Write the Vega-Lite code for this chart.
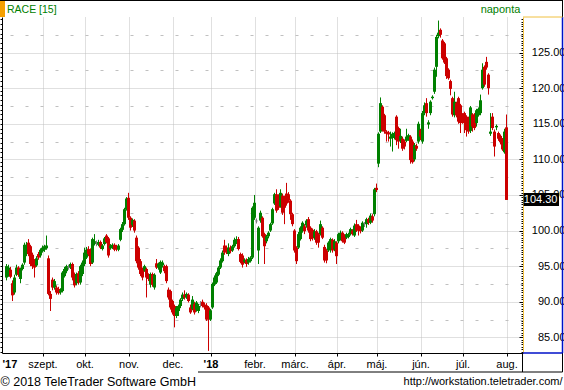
{
 "$schema": "https://vega.github.io/schema/vega-lite/v6.json",
 "width": 521, "height": 336,
 "autosize": {"type": "none"},
 "padding": {"left": 2, "top": 17, "right": 41, "bottom": 37},
 "background": "#ffffff",
 "config": {"view": {"stroke": null}, "font": "Liberation Sans"},
 "title": {"text": "RACE [15]", "anchor": "start", "frame": "group", "color": "#008000", "font": "Liberation Sans", "fontSize": 10.5, "fontWeight": "normal", "offset": 0, "dx": 5, "dy": 21, "baseline": "middle"},
 "datasets": {"candles": [
{"i":0,"o":93.4,"h":95.3,"l":93.0,"c":95.0},{"i":1,"o":93.7,"h":95.2,"l":93.5,"c":94.8},{"i":2,"o":94.5,"h":94.9,"l":93.3,"c":93.5},{"i":3,"o":92.6,"h":93.0,"l":90.1,"c":90.9},{"i":4,"o":91.3,"h":93.8,"l":91.0,"c":93.4},{"i":5,"o":93.8,"h":95.2,"l":93.6,"c":94.8},{"i":6,"o":94.8,"h":95.0,"l":93.5,"c":93.8},{"i":7,"o":93.2,"h":94.8,"l":92.6,"c":94.6},{"i":8,"o":94.6,"h":95.4,"l":94.4,"c":95.2},{"i":9,"o":95.5,"h":98.3,"l":95.2,"c":98.0},
{"i":10,"o":96.7,"h":98.4,"l":96.4,"c":98.0},{"i":11,"o":98.3,"h":98.8,"l":96.4,"c":96.7},{"i":12,"o":97.8,"h":98.0,"l":95.0,"c":95.3},{"i":13,"o":96.6,"h":96.9,"l":94.6,"c":95.0},{"i":14,"o":95.8,"h":96.0,"l":93.4,"c":94.8},{"i":15,"o":95.1,"h":96.4,"l":94.9,"c":96.1},{"i":16,"o":96.7,"h":97.0,"l":95.9,"c":96.2},{"i":17,"o":96.5,"h":97.5,"l":96.2,"c":97.3},{"i":18,"o":97.1,"h":97.9,"l":96.9,"c":97.6},{"i":19,"o":97.3,"h":98.0,"l":97.0,"c":97.8},
{"i":20,"o":97.5,"h":99.3,"l":97.3,"c":97.9},{"i":21,"o":96.1,"h":96.5,"l":90.9,"c":91.1},{"i":22,"o":91.1,"h":91.5,"l":88.7,"c":90.4},{"i":23,"o":93.1,"h":93.4,"l":91.6,"c":92.0},{"i":24,"o":92.0,"h":93.2,"l":91.7,"c":92.9},{"i":25,"o":92.0,"h":92.3,"l":91.0,"c":91.3},{"i":26,"o":91.8,"h":92.1,"l":91.0,"c":91.2},{"i":27,"o":91.3,"h":91.9,"l":91.0,"c":91.6},{"i":28,"o":91.5,"h":94.3,"l":91.3,"c":94.1},{"i":29,"o":93.6,"h":94.9,"l":93.4,"c":94.6},
{"i":30,"o":94.3,"h":95.2,"l":94.0,"c":95.0},{"i":31,"o":94.8,"h":95.2,"l":94.5,"c":94.9},{"i":32,"o":94.8,"h":95.5,"l":94.6,"c":95.3},{"i":33,"o":95.3,"h":95.5,"l":93.0,"c":93.4},{"i":34,"o":93.9,"h":94.1,"l":92.0,"c":92.3},{"i":35,"o":92.6,"h":94.1,"l":92.3,"c":93.9},{"i":36,"o":94.0,"h":94.3,"l":92.4,"c":92.7},{"i":37,"o":92.7,"h":95.2,"l":92.4,"c":95.0},{"i":38,"o":93.9,"h":95.8,"l":93.6,"c":95.5},{"i":39,"o":95.3,"h":97.6,"l":95.0,"c":96.9},
{"i":40,"o":96.2,"h":97.7,"l":96.0,"c":97.3},{"i":41,"o":97.4,"h":97.8,"l":96.4,"c":96.7},{"i":42,"o":97.2,"h":97.5,"l":95.0,"c":95.3},{"i":43,"o":95.5,"h":99.0,"l":95.3,"c":98.8},{"i":44,"o":98.1,"h":99.5,"l":97.9,"c":98.5},{"i":45,"o":98.2,"h":98.6,"l":97.8,"c":98.3},{"i":46,"o":98.0,"h":98.7,"l":97.8,"c":98.4},{"i":47,"o":98.4,"h":98.6,"l":97.4,"c":97.6},{"i":48,"o":97.4,"h":98.1,"l":97.2,"c":97.9},{"i":49,"o":98.1,"h":99.1,"l":97.9,"c":98.9},
{"i":50,"o":99.3,"h":99.5,"l":98.2,"c":98.4},{"i":51,"o":98.9,"h":99.1,"l":96.2,"c":96.5},{"i":52,"o":97.5,"h":98.1,"l":97.3,"c":97.9},{"i":53,"o":97.6,"h":98.2,"l":97.4,"c":98.0},{"i":54,"o":98.0,"h":98.2,"l":97.1,"c":97.3},{"i":55,"o":97.8,"h":98.0,"l":97.1,"c":97.4},{"i":56,"o":97.3,"h":98.1,"l":97.1,"c":97.9},{"i":57,"o":98.7,"h":100.4,"l":98.5,"c":100.2},{"i":58,"o":100.1,"h":101.2,"l":99.8,"c":100.9},{"i":59,"o":100.9,"h":103.2,"l":100.7,"c":103.0},
{"i":60,"o":103.0,"h":104.7,"l":102.8,"c":104.5},{"i":61,"o":104.6,"h":105.3,"l":101.5,"c":101.8},{"i":62,"o":101.8,"h":102.0,"l":100.0,"c":100.4},{"i":63,"o":100.8,"h":101.7,"l":100.5,"c":101.5},{"i":64,"o":101.4,"h":101.6,"l":99.7,"c":100.0},{"i":65,"o":99.0,"h":99.3,"l":95.4,"c":95.7},{"i":66,"o":97.6,"h":97.8,"l":94.5,"c":94.8},{"i":67,"o":95.7,"h":96.0,"l":93.6,"c":93.9},{"i":68,"o":94.6,"h":94.8,"l":93.0,"c":93.4},{"i":69,"o":94.4,"h":95.2,"l":94.2,"c":95.0},
{"i":70,"o":94.6,"h":94.8,"l":90.6,"c":93.4},{"i":71,"o":93.8,"h":94.0,"l":92.9,"c":93.2},{"i":72,"o":92.4,"h":94.1,"l":92.0,"c":93.9},{"i":73,"o":93.9,"h":94.1,"l":92.1,"c":92.4},{"i":74,"o":92.0,"h":94.0,"l":91.7,"c":93.8},{"i":75,"o":95.4,"h":96.0,"l":94.6,"c":94.8},{"i":76,"o":94.8,"h":95.5,"l":94.5,"c":95.3},{"i":77,"o":94.1,"h":95.8,"l":93.9,"c":95.6},{"i":78,"o":95.1,"h":95.8,"l":94.8,"c":95.5},{"i":79,"o":95.0,"h":95.2,"l":94.0,"c":94.3},
{"i":80,"o":95.0,"h":95.2,"l":92.6,"c":92.9},{"i":81,"o":91.7,"h":92.0,"l":90.3,"c":90.6},{"i":82,"o":91.5,"h":91.7,"l":88.9,"c":89.2},{"i":83,"o":90.1,"h":90.3,"l":88.2,"c":88.5},{"i":84,"o":89.4,"h":89.6,"l":86.4,"c":88.0},{"i":85,"o":88.0,"h":89.4,"l":87.7,"c":89.2},{"i":86,"o":88.7,"h":89.6,"l":88.0,"c":89.4},{"i":87,"o":89.4,"h":90.5,"l":89.1,"c":90.3},{"i":88,"o":90.4,"h":91.3,"l":90.1,"c":91.0},{"i":89,"o":91.0,"h":91.6,"l":90.3,"c":90.6},
{"i":90,"o":90.6,"h":91.3,"l":90.4,"c":91.1},{"i":91,"o":91.0,"h":91.2,"l":89.9,"c":90.1},{"i":92,"o":89.2,"h":89.6,"l":88.3,"c":88.5},{"i":93,"o":89.0,"h":90.8,"l":88.8,"c":90.3},{"i":94,"o":89.7,"h":90.0,"l":88.2,"c":88.5},{"i":95,"o":88.9,"h":90.1,"l":88.6,"c":89.9},{"i":96,"o":88.7,"h":89.7,"l":88.4,"c":89.4},{"i":97,"o":89.6,"h":90.1,"l":89.2,"c":89.7},{"i":98,"o":90.0,"h":90.3,"l":89.2,"c":89.4},{"i":99,"o":89.6,"h":89.9,"l":88.9,"c":89.2},
{"i":100,"o":89.5,"h":89.8,"l":87.3,"c":87.5},{"i":101,"o":89.2,"h":89.4,"l":83.1,"c":87.5},{"i":102,"o":87.5,"h":89.0,"l":87.3,"c":88.8},{"i":103,"o":89.2,"h":92.7,"l":89.0,"c":92.5},{"i":104,"o":92.4,"h":93.7,"l":92.2,"c":93.4},{"i":105,"o":92.7,"h":94.2,"l":92.5,"c":94.0},{"i":106,"o":93.8,"h":95.0,"l":93.6,"c":94.8},{"i":107,"o":94.8,"h":96.1,"l":94.6,"c":95.8},{"i":108,"o":95.7,"h":97.2,"l":95.5,"c":96.9},{"i":109,"o":97.9,"h":98.7,"l":96.6,"c":96.9},
{"i":110,"o":97.6,"h":97.9,"l":96.7,"c":97.1},{"i":111,"o":96.7,"h":98.2,"l":96.4,"c":97.6},{"i":112,"o":97.6,"h":97.9,"l":96.8,"c":97.1},{"i":113,"o":97.2,"h":98.0,"l":97.0,"c":97.8},{"i":114,"o":97.8,"h":99.0,"l":97.6,"c":98.7},{"i":115,"o":98.3,"h":99.2,"l":98.1,"c":98.8},{"i":116,"o":98.8,"h":99.1,"l":97.2,"c":97.4},{"i":117,"o":96.7,"h":96.9,"l":95.4,"c":95.6},{"i":118,"o":96.5,"h":96.8,"l":94.8,"c":95.2},{"i":119,"o":95.6,"h":96.1,"l":95.4,"c":95.9},
{"i":120,"o":95.9,"h":96.1,"l":94.9,"c":95.3},{"i":121,"o":95.5,"h":96.3,"l":95.2,"c":96.0},{"i":122,"o":95.7,"h":96.4,"l":95.5,"c":96.2},{"i":123,"o":96.2,"h":103.4,"l":96.0,"c":103.2},{"i":124,"o":101.8,"h":105.0,"l":101.5,"c":103.9},{"i":125,"o":101.3,"h":101.7,"l":101.0,"c":101.4},{"i":126,"o":97.2,"h":100.6,"l":95.3,"c":100.4},{"i":127,"o":101.4,"h":102.8,"l":101.1,"c":102.5},{"i":128,"o":101.8,"h":102.0,"l":99.0,"c":99.2},{"i":129,"o":99.5,"h":99.7,"l":95.3,"c":97.8},
{"i":130,"o":98.5,"h":99.4,"l":98.2,"c":99.2},{"i":131,"o":99.2,"h":99.9,"l":98.9,"c":99.7},{"i":132,"o":100.0,"h":101.1,"l":99.8,"c":100.9},{"i":133,"o":101.0,"h":103.2,"l":100.8,"c":103.0},{"i":134,"o":103.8,"h":105.3,"l":103.6,"c":105.1},{"i":135,"o":105.1,"h":105.8,"l":102.5,"c":102.8},{"i":136,"o":104.9,"h":105.1,"l":102.9,"c":103.2},{"i":137,"o":103.4,"h":105.8,"l":103.2,"c":105.3},{"i":138,"o":104.9,"h":105.2,"l":102.2,"c":102.5},{"i":139,"o":104.6,"h":104.9,"l":100.9,"c":103.2},
{"i":140,"o":105.2,"h":106.7,"l":103.5,"c":103.8},{"i":141,"o":105.1,"h":105.4,"l":103.9,"c":104.2},{"i":142,"o":104.2,"h":104.4,"l":101.5,"c":102.3},{"i":143,"o":102.3,"h":102.5,"l":100.6,"c":100.9},{"i":144,"o":100.0,"h":100.2,"l":96.9,"c":97.2},{"i":145,"o":97.6,"h":97.8,"l":95.3,"c":95.7},{"i":146,"o":97.6,"h":99.8,"l":97.4,"c":99.5},{"i":147,"o":98.8,"h":100.6,"l":98.6,"c":100.4},{"i":148,"o":100.0,"h":101.3,"l":99.7,"c":101.1},{"i":149,"o":100.6,"h":100.9,"l":99.5,"c":99.9},
{"i":150,"o":100.7,"h":101.6,"l":100.4,"c":101.4},{"i":151,"o":101.6,"h":101.9,"l":99.7,"c":100.0},{"i":152,"o":100.4,"h":100.6,"l":98.5,"c":98.8},{"i":153,"o":100.1,"h":100.3,"l":98.6,"c":98.9},{"i":154,"o":99.0,"h":100.2,"l":98.7,"c":99.9},{"i":155,"o":99.9,"h":100.1,"l":98.0,"c":98.3},{"i":156,"o":99.5,"h":99.7,"l":97.6,"c":98.3},{"i":157,"o":99.5,"h":101.4,"l":99.3,"c":100.9},{"i":158,"o":100.4,"h":100.6,"l":98.8,"c":99.0},{"i":159,"o":97.7,"h":98.0,"l":95.5,"c":95.8},
{"i":160,"o":97.2,"h":97.4,"l":95.4,"c":95.8},{"i":161,"o":97.2,"h":98.5,"l":97.0,"c":98.3},{"i":162,"o":97.4,"h":99.0,"l":96.9,"c":98.8},{"i":163,"o":98.7,"h":98.9,"l":96.9,"c":97.2},{"i":164,"o":97.4,"h":98.8,"l":97.1,"c":98.5},{"i":165,"o":98.3,"h":98.5,"l":95.3,"c":96.4},{"i":166,"o":98.5,"h":99.7,"l":98.2,"c":99.5},{"i":167,"o":98.8,"h":100.0,"l":98.6,"c":99.7},{"i":168,"o":99.7,"h":99.9,"l":98.3,"c":98.5},{"i":169,"o":99.3,"h":99.5,"l":98.1,"c":98.3},
{"i":170,"o":99.0,"h":99.7,"l":98.8,"c":99.5},{"i":171,"o":99.1,"h":99.7,"l":98.9,"c":99.5},{"i":172,"o":99.5,"h":100.4,"l":99.3,"c":100.2},{"i":173,"o":100.0,"h":100.2,"l":99.3,"c":99.5},{"i":174,"o":99.3,"h":101.0,"l":99.1,"c":100.7},{"i":175,"o":100.9,"h":101.5,"l":99.8,"c":100.0},{"i":176,"o":100.7,"h":100.9,"l":99.3,"c":100.0},{"i":177,"o":100.4,"h":100.6,"l":99.6,"c":99.9},{"i":178,"o":100.0,"h":101.3,"l":99.8,"c":101.1},{"i":179,"o":100.9,"h":101.2,"l":100.5,"c":101.0},
{"i":180,"o":100.9,"h":101.8,"l":100.4,"c":101.6},{"i":181,"o":101.6,"h":101.8,"l":100.8,"c":101.1},{"i":182,"o":101.1,"h":102.4,"l":100.9,"c":102.1},{"i":183,"o":102.0,"h":102.3,"l":101.1,"c":101.4},{"i":184,"o":102.3,"h":106.0,"l":102.0,"c":105.8},{"i":185,"o":106.0,"h":106.6,"l":105.4,"c":105.7},{"i":186,"o":109.4,"h":113.8,"l":108.9,"c":113.6},{"i":187,"o":113.9,"h":118.7,"l":113.7,"c":117.9},{"i":188,"o":117.4,"h":117.6,"l":113.9,"c":114.1},{"i":189,"o":116.2,"h":116.4,"l":113.6,"c":113.9},
{"i":190,"o":113.9,"h":114.1,"l":112.5,"c":113.6},{"i":191,"o":113.8,"h":114.0,"l":112.5,"c":113.5},{"i":192,"o":112.9,"h":113.9,"l":111.8,"c":113.2},{"i":193,"o":113.0,"h":113.8,"l":111.1,"c":113.6},{"i":194,"o":113.0,"h":113.9,"l":112.8,"c":113.7},{"i":195,"o":116.0,"h":116.2,"l":112.0,"c":112.7},{"i":196,"o":114.4,"h":114.6,"l":111.5,"c":112.5},{"i":197,"o":112.6,"h":114.3,"l":112.3,"c":113.3},{"i":198,"o":112.9,"h":113.2,"l":111.2,"c":111.5},{"i":199,"o":112.5,"h":112.8,"l":111.4,"c":111.8},
{"i":200,"o":112.6,"h":114.3,"l":112.4,"c":113.2},{"i":201,"o":112.9,"h":113.6,"l":112.6,"c":113.4},{"i":202,"o":113.2,"h":113.4,"l":109.4,"c":109.9},{"i":203,"o":112.5,"h":112.8,"l":109.4,"c":109.6},{"i":204,"o":110.0,"h":112.3,"l":109.7,"c":112.0},{"i":205,"o":111.9,"h":112.2,"l":111.2,"c":111.5},{"i":206,"o":112.5,"h":115.3,"l":112.2,"c":115.0},{"i":207,"o":114.1,"h":114.3,"l":112.7,"c":113.2},{"i":208,"o":112.5,"h":116.8,"l":112.2,"c":116.5},{"i":209,"o":116.5,"h":118.0,"l":116.2,"c":117.6},
{"i":210,"o":117.9,"h":118.6,"l":116.0,"c":116.5},{"i":211,"o":114.9,"h":115.5,"l":114.3,"c":115.2},{"i":212,"o":116.5,"h":118.3,"l":116.2,"c":118.1},{"i":213,"o":118.6,"h":119.0,"l":118.4,"c":118.8},{"i":214,"o":119.5,"h":122.9,"l":119.2,"c":122.6},{"i":215,"o":123.0,"h":127.5,"l":121.6,"c":127.2},{"i":216,"o":127.3,"h":129.5,"l":127.0,"c":127.8},{"i":217,"o":128.2,"h":128.4,"l":127.1,"c":127.5},{"i":218,"o":126.7,"h":126.9,"l":124.0,"c":124.2},{"i":219,"o":126.3,"h":126.5,"l":123.4,"c":123.6},
{"i":220,"o":124.2,"h":124.4,"l":121.3,"c":121.7},{"i":221,"o":122.6,"h":122.8,"l":121.2,"c":121.4},{"i":222,"o":121.0,"h":121.2,"l":119.0,"c":119.9},{"i":223,"o":118.6,"h":118.8,"l":116.0,"c":116.3},{"i":224,"o":116.2,"h":119.5,"l":115.9,"c":118.1},{"i":225,"o":117.9,"h":118.1,"l":115.9,"c":116.2},{"i":226,"o":118.6,"h":118.8,"l":115.0,"c":115.3},{"i":227,"o":117.6,"h":117.8,"l":113.7,"c":115.1},{"i":228,"o":116.2,"h":116.5,"l":115.0,"c":115.3},{"i":229,"o":116.5,"h":116.7,"l":113.7,"c":115.1},
{"i":230,"o":116.0,"h":116.2,"l":113.2,"c":114.1},{"i":231,"o":115.8,"h":116.0,"l":113.6,"c":113.9},{"i":232,"o":114.0,"h":117.5,"l":113.7,"c":117.3},{"i":233,"o":116.3,"h":116.5,"l":113.9,"c":114.6},{"i":234,"o":116.3,"h":116.5,"l":114.1,"c":114.4},{"i":235,"o":115.1,"h":117.1,"l":114.6,"c":116.9},{"i":236,"o":116.2,"h":117.3,"l":116.0,"c":117.1},{"i":237,"o":116.5,"h":119.1,"l":116.2,"c":118.3},{"i":238,"o":120.0,"h":123.5,"l":119.8,"c":122.6},{"i":239,"o":123.0,"h":123.2,"l":120.2,"c":120.5},
{"i":240,"o":123.7,"h":124.4,"l":122.6,"c":122.9},{"i":241,"o":121.9,"h":122.1,"l":119.1,"c":120.0},{"i":242,"o":113.6,"h":116.5,"l":113.3,"c":113.9},{"i":243,"o":116.0,"h":116.5,"l":114.1,"c":114.4},{"i":244,"o":113.9,"h":114.2,"l":110.4,"c":111.8},{"i":245,"o":114.5,"h":114.9,"l":114.1,"c":114.7},{"i":246,"o":113.7,"h":113.9,"l":112.6,"c":112.9},{"i":247,"o":113.3,"h":113.5,"l":112.1,"c":112.4},{"i":248,"o":112.8,"h":113.0,"l":111.2,"c":111.4},{"i":249,"o":111.0,"h":114.3,"l":110.8,"c":113.9},
{"i":250,"o":114.5,"h":116.3,"l":104.3,"c":104.3}
 ]},
 "resolve": {"axis": {"y": "independent"}},
 "layer": [
  {
   "data": {"name": "candles"},
   "mark": {"type": "rule", "strokeWidth": 1},
   "encoding": {
    "x": {"field": "i", "type": "quantitative", "scale": {"domain": [-2.25, 258.25], "nice": false, "zero": false, "padding": 0},
     "axis": {
      "orient": "bottom",
      "values": [-2.25,18,39,61,83,102,124,144,165,185,207,228,250],
      "labelExpr": "[\"'17\",\"szept.\",\"okt.\",\"nov.\",\"dec.\",\"'18\",\"febr.\",\"márc.\",\"ápr.\",\"máj.\",\"jún.\",\"júl.\",\"aug.\"][indexof([-2.25,18,39,61,83,102,124,144,165,185,207,228,250], datum.value)]",
      "labelAlign": {"condition": {"test": "datum.value < 0", "value": "left"}, "value": "center"},
      "labelFontWeight": {"condition": {"test": "datum.value < 0 || datum.value == 102", "value": "bold"}, "value": "normal"},
      "labelFont": "Liberation Sans", "labelFontSize": 11, "labelColor": "#000000",
      "labelBaseline": "middle", "labelPadding": 8, "labelFlush": false, "labelOverlap": false, "labelBound": false,
      "domain": true, "domainColor": "#000000", "domainWidth": 1,
      "ticks": true, "tickSize": 3, "tickColor": "#000000",
      "tickOpacity": {"condition": {"test": "datum.value < 0", "value": 0}, "value": 1},
      "grid": true, "gridColor": "#c0c0c0", "gridDash": [1, 1],
      "gridOpacity": {"condition": {"test": "datum.value < 0", "value": 0}, "value": 1},
      "title": "© 2018 TeleTrader Software GmbH", "titleX": -2, "titleY": 28, "titleAlign": "left", "titleAnchor": "start", "titleBaseline": "middle",
      "titleFont": "Liberation Sans", "titleFontSize": 12.5, "titleFontWeight": "normal", "titleColor": "#000000"
     }},
    "y": {"field": "l", "type": "quantitative", "scale": {"domain": [82.8, 130], "nice": false, "zero": false},
     "axis": {
      "orient": "left",
      "values": [83,83.6667,84.3333,85,85.6667,86.3333,87,87.6667,88.3333,89,89.6667,90.3333,91,91.6667,92.3333,93,93.6667,94.3333,95,95.6667,96.3333,97,97.6667,98.3333,99,99.6667,100.3333,101,101.6667,102.3333,103,103.6667,104.3333,105,105.6667,106.3333,107,107.6667,108.3333,109,109.6667,110.3333,111,111.6667,112.3333,113,113.6667,114.3333,115,115.6667,116.3333,117,117.6667,118.3333,119,119.6667,120.3333,121,121.6667,122.3333,123,123.6667,124.3333,125,125.6667,126.3333,127,127.6667,128.3333,129,129.6667],
      "labels": false, "grid": false,
      "domain": true, "domainColor": "#000000", "domainWidth": 1,
      "ticks": true, "tickSize": 2, "tickColor": "#000000",
      "title": "naponta", "titleAngle": 0, "titleX": 498, "titleY": -8, "titleAlign": "center", "titleBaseline": "middle",
      "titleColor": "#008000", "titleFont": "Liberation Sans", "titleFontSize": 11, "titleFontWeight": "normal"
     }},
    "y2": {"field": "h"},
    "color": {"condition": [{"test": "abs(datum.c - datum.o) < 0.15", "value": "#808080"}, {"test": "datum.c > datum.o", "value": "#008000"}], "value": "#cc0000"}
   }
  },
  {
   "data": {"name": "candles"},
   "mark": {"type": "bar", "width": 3},
   "encoding": {
    "x": {"field": "i", "type": "quantitative", "scale": {"domain": [-2.25, 258.25], "nice": false, "zero": false, "padding": 0}},
    "y": {"field": "o", "type": "quantitative", "scale": {"domain": [82.8, 130], "nice": false, "zero": false},
     "axis": {
      "orient": "right",
      "values": [83,83.3333,83.6667,84,84.3333,84.6667,85,85.3333,85.6667,86,86.3333,86.6667,87,87.3333,87.6667,88,88.3333,88.6667,89,89.3333,89.6667,90,90.3333,90.6667,91,91.3333,91.6667,92,92.3333,92.6667,93,93.3333,93.6667,94,94.3333,94.6667,95,95.3333,95.6667,96,96.3333,96.6667,97,97.3333,97.6667,98,98.3333,98.6667,99,99.3333,99.6667,100,100.3333,100.6667,101,101.3333,101.6667,102,102.3333,102.6667,103,103.3333,103.6667,104,104.3333,104.6667,105,105.3333,105.6667,106,106.3333,106.6667,107,107.3333,107.6667,108,108.3333,108.6667,109,109.3333,109.6667,110,110.3333,110.6667,111,111.3333,111.6667,112,112.3333,112.6667,113,113.3333,113.6667,114,114.3333,114.6667,115,115.3333,115.6667,116,116.3333,116.6667,117,117.3333,117.6667,118,118.3333,118.6667,119,119.3333,119.6667,120,120.3333,120.6667,121,121.3333,121.6667,122,122.3333,122.6667,123,123.3333,123.6667,124,124.3333,124.6667,125,125.3333,125.6667,126,126.3333,126.6667,127,127.3333,127.6667,128,128.3333,128.6667,129,129.3333,129.6667,87.5,92.5,97.5,102.5,107.5,112.5,117.5,122.5,127.5],
      "labelExpr": "datum.value % 5 == 0 ? format(datum.value, '.2f') : ''",
      "labelAlign": "right", "labelBaseline": "middle", "labelPadding": 46,
      "labelFont": "Liberation Sans", "labelFontSize": 11, "labelColor": "#000000",
      "labelFlush": false, "labelOverlap": false, "labelBound": false,
      "domain": true, "domainColor": "#f0c040", "domainWidth": 1,
      "ticks": true, "tickColor": "#000000",
      "tickSize": {"condition": {"test": "datum.value % 5 == 0", "value": -4}, "value": -2},
      "tickOpacity": {"condition": {"test": "datum.value % 5 == 2.5", "value": 0}, "value": 1},
      "grid": true, "gridColor": "#c0c0c0",
      "gridDash": {"condition": {"test": "datum.value % 5 == 0", "value": [1, 1]}, "value": [3, 12]},
      "gridOpacity": {"condition": {"test": "datum.value % 2.5 == 0", "value": 1}, "value": 0},
      "title": "http://workstation.teletrader.com/", "titleAngle": 0, "titleX": 39, "titleY": 364, "titleAlign": "right", "titleBaseline": "middle",
      "titleFont": "Liberation Sans", "titleFontSize": 11, "titleFontWeight": "normal", "titleColor": "#000000"
     }},
    "y2": {"field": "c"},
    "color": {"condition": [{"test": "abs(datum.c - datum.o) < 0.15", "value": "#808080"}, {"test": "datum.c > datum.o", "value": "#008000"}], "value": "#cc0000"}
   }
  },
  {
   "data": {"values": [{}]},
   "mark": {"type": "rect", "color": "#f5a000"},
   "encoding": {
    "x": {"datum": -3.25, "type": "quantitative", "scale": {"domain": [-2.25, 258.25], "nice": false, "zero": false, "padding": 0}},
    "x2": {"datum": -0.75},
    "y": {"datum": 130, "type": "quantitative", "scale": {"domain": [82.8, 130], "nice": false, "zero": false}, "axis": null},
    "y2": {"datum": 132.39}
   }
  },
  {
   "data": {"values": [{}]},
   "mark": {"type": "rule", "color": "#000000", "strokeWidth": 1},
   "encoding": {
    "x": {"datum": -3.25, "type": "quantitative", "scale": {"domain": [-2.25, 258.25], "nice": false, "zero": false, "padding": 0}},
    "x2": {"datum": 278.25},
    "y": {"datum": 132.32, "type": "quantitative", "scale": {"domain": [82.8, 130], "nice": false, "zero": false}, "axis": null}
   }
  },
  {
   "data": {"values": [{}]},
   "mark": {"type": "rule", "color": "#000000", "strokeWidth": 1},
   "encoding": {
    "x": {"datum": 278, "type": "quantitative", "scale": {"domain": [-2.25, 258.25], "nice": false, "zero": false, "padding": 0}},
    "y": {"datum": 132.39, "type": "quantitative", "scale": {"domain": [82.8, 130], "nice": false, "zero": false}, "axis": null},
    "y2": {"datum": 80.13}
   }
  },
  {
   "data": {"values": [{}]},
   "mark": {"type": "rule", "color": "#000000", "strokeWidth": 1},
   "encoding": {
    "x": {"datum": 258, "type": "quantitative", "scale": {"domain": [-2.25, 258.25], "nice": false, "zero": false, "padding": 0}},
    "y": {"datum": 82.8, "type": "quantitative", "scale": {"domain": [82.8, 130], "nice": false, "zero": false}, "axis": null},
    "y2": {"datum": 80.13}
   }
  },
  {
   "data": {"values": [{}]},
   "mark": {"type": "rule", "color": "#000000", "strokeWidth": 1},
   "encoding": {
    "x": {"datum": 95.75, "type": "quantitative", "scale": {"domain": [-2.25, 258.25], "nice": false, "zero": false, "padding": 0}},
    "x2": {"datum": 278},
    "y": {"datum": 80.13, "type": "quantitative", "scale": {"domain": [82.8, 130], "nice": false, "zero": false}, "axis": null}
   }
  },
  {
   "data": {"values": [{}]},
   "mark": {"type": "rule", "color": "#0010c8", "strokeWidth": 1.5},
   "encoding": {
    "x": {"datum": 278, "type": "quantitative", "scale": {"domain": [-2.25, 258.25], "nice": false, "zero": false, "padding": 0}},
    "y": {"datum": 130, "type": "quantitative", "scale": {"domain": [82.8, 130], "nice": false, "zero": false}, "axis": null},
    "y2": {"datum": 82.8}
   }
  },
  {
   "data": {"values": [{}]},
   "mark": {"type": "rule", "color": "#0010c8", "strokeWidth": 1.5},
   "encoding": {
    "x": {"datum": 258.25, "type": "quantitative", "scale": {"domain": [-2.25, 258.25], "nice": false, "zero": false, "padding": 0}},
    "x2": {"datum": 278},
    "y": {"datum": 82.8, "type": "quantitative", "scale": {"domain": [82.8, 130], "nice": false, "zero": false}, "axis": null}
   }
  },
  {
   "data": {"values": [{}]},
   "mark": {"type": "rule", "color": "#f0c040", "strokeWidth": 1},
   "encoding": {
    "x": {"datum": 258.25, "type": "quantitative", "scale": {"domain": [-2.25, 258.25], "nice": false, "zero": false, "padding": 0}},
    "x2": {"datum": 278},
    "y": {"datum": 130, "type": "quantitative", "scale": {"domain": [82.8, 130], "nice": false, "zero": false}, "axis": null}
   }
  },
  {
   "data": {"values": [{}]},
   "mark": {"type": "rect", "color": "#000000"},
   "encoding": {
    "x": {"datum": 258.5, "type": "quantitative", "scale": {"domain": [-2.25, 258.25], "nice": false, "zero": false, "padding": 0}},
    "x2": {"datum": 276.25},
    "y": {"datum": 103.45, "type": "quantitative", "scale": {"domain": [82.8, 130], "nice": false, "zero": false}, "axis": null},
    "y2": {"datum": 105.28}
   }
  },
  {
   "data": {"name": "candles"},
   "transform": [{"filter": "datum.i == 250"}],
   "mark": {"type": "text", "align": "right", "baseline": "middle", "color": "#ffffff", "font": "Liberation Sans", "fontSize": 11},
   "encoding": {
    "x": {"datum": 275.5, "type": "quantitative", "scale": {"domain": [-2.25, 258.25], "nice": false, "zero": false, "padding": 0}},
    "y": {"field": "c", "type": "quantitative", "scale": {"domain": [82.8, 130], "nice": false, "zero": false}, "axis": null},
    "text": {"field": "c", "type": "quantitative", "format": ".2f"}
   }
  }
 ]
}
